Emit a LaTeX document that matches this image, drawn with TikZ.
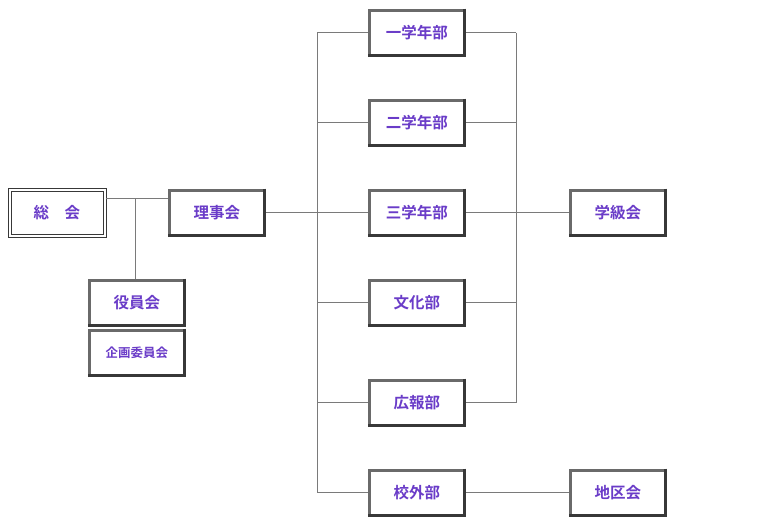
\documentclass[tikz,border=0pt]{standalone}
\usepackage{fontspec}
\setmainfont{Noto Sans CJK JP}[BoldFont={* Bold}]
\usetikzlibrary{calc}
\definecolor{txt}{HTML}{6A3CC8}
\definecolor{bdr}{HTML}{6A6A6A}
\definecolor{bdrd}{HTML}{383838}
\definecolor{ln}{HTML}{7A7A7A}
\tikzset{
  orgbox/.style={draw=bdr, line width=3.2pt, fill=white, minimum width=95.5pt, minimum height=45pt,
    inner sep=0pt, text=txt, font=\bfseries\fontsize{15.5}{16}\selectfont, anchor=north west},
  smallbox/.style={orgbox, font=\bfseries\fontsize{12.5}{13}\selectfont},
  conn/.style={draw=ln, line width=1pt},
}
\newcommand{\boxshadow}[1]{\draw[bdrd, line width=2.8pt] ($(#1.north east)+(-1.6,0.2)$) -- ($(#1.south east)+(-1.6,-1.6)$) -- ($(#1.south west)+(0.2,-1.6)$);}
\begin{document}
\begin{tikzpicture}[x=1pt,y=-1pt]
\useasboundingbox[fill=white] (0,0) rectangle (769,531);
% nodes
\node[draw=bdrd, line width=0.8pt, minimum width=98pt, minimum height=49pt, anchor=north west, inner sep=0pt] (soukai) at (7.5,188) {};
\node[draw=bdrd, line width=0.8pt, minimum width=92pt, minimum height=43pt, text=txt, font=\bfseries\fontsize{15.5}{16}\selectfont, inner sep=0pt] (soukaiin) at (soukai.center) {総　会};
\node[orgbox] (riji) at (167.5,188.5) {理事会};
\node[orgbox] (yakuin) at (87.5,278.5) {役員会};
\node[smallbox] (kikaku) at (87.5,328.5) {企画委員会};
\node[orgbox] (g1) at (367.5,8.5) {一学年部};
\node[orgbox] (g2) at (367.5,98.5) {二学年部};
\node[orgbox] (g3) at (367.5,188.5) {三学年部};
\node[orgbox] (bunka) at (367.5,278.5) {文化部};
\node[orgbox] (kouhou) at (367.5,378.5) {広報部};
\node[orgbox] (kougai) at (367.5,468.5) {校外部};
\node[orgbox] (gakkyu) at (568.5,188.5) {学級会};
\node[orgbox] (chiku) at (568.5,468.5) {地区会};
\foreach \n in {riji,yakuin,kikaku,g1,g2,g3,bunka,kouhou,kougai,gakkyu,chiku}{\boxshadow{\n}}
% coordinates
\coordinate (j1) at (135,198);
\coordinate (lt) at (317,0);
\coordinate (rt) at (516,0);
% connectors
\draw[conn] (soukai.east |- j1) -- (riji.west |- j1);
\draw[conn] (j1) -- (j1 |- yakuin.north);
\draw[conn] (riji.east) -- (lt |- riji.east);
\draw[conn] (lt |- g1.west) -- (lt |- kougai.west);
\foreach \n in {g1,g2,g3,bunka,kouhou,kougai}{\draw[conn] (lt |- \n.west) -- (\n.west);}
\draw[conn] (rt |- g1.east) -- (rt |- kouhou.east);
\foreach \n in {g1,g2,g3,bunka,kouhou}{\draw[conn] (\n.east) -- (rt |- \n.east);}
\draw[conn] (rt |- gakkyu.west) -- (gakkyu.west);
\draw[conn] (kougai.east) -- (chiku.west);
\end{tikzpicture}
\end{document}
